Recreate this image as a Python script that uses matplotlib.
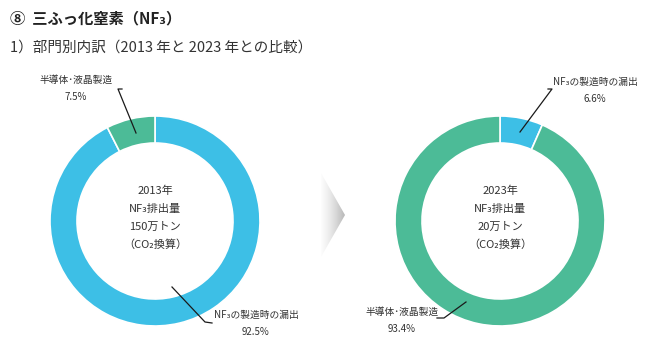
import matplotlib
matplotlib.use("Agg")
import matplotlib.pyplot as plt
import numpy as np
from matplotlib.patches import Polygon

plt.rcParams['font.family'] = ['Noto Sans CJK JP', 'DejaVu Sans']

# data
sectors = ["NF₃の製造時の漏出", "半導体･液晶製造"]
share_2013 = [92.5, 7.5]
share_2023 = [6.6, 93.4]
colors = ["#3dbfe6", "#4cbb97"]
years = ["2013年", "2023年"]
totals = ["150万トン", "20万トン"]

H = 350
TXT = "#333333"

fig = plt.figure(figsize=(6.5, 3.5), dpi=100)
ax = fig.add_axes([0, 0, 1, 1])

def py(y):
    # pixel row -> data y
    return H - y

def donut(cx, cy, vals, year, total):
    ax.pie(vals, colors=colors, startangle=90, counterclock=False,
           radius=105, center=(cx, py(cy)),
           wedgeprops=dict(width=27, edgecolor="white", linewidth=1.2))
    lines = [year, "NF₃排出量", total, "（CO₂換算）"]
    for i, s in enumerate(lines):
        ax.text(cx, py(cy - 30 + i * 18), s, ha="center", va="center",
                fontsize=8, color=TXT)

def label(x, y, name, val, pts):
    ax.text(x, py(y), name, ha="center", va="center", fontsize=7, color=TXT)
    ax.text(x, py(y + 17), f"{val}%", ha="center", va="center", fontsize=7, color=TXT)
    xs = [p[0] for p in pts]
    ys = [py(p[1]) for p in pts]
    ax.plot(xs, ys, color="#1a1a1a", lw=0.9)

donut(155, 221, share_2013, years[0], totals[0])
donut(500, 221, share_2023, years[1], totals[1])

label(76, 80, sectors[1], share_2013[1], [(122, 89), (118, 89), (136, 133)])
label(256, 315, sectors[0], share_2013[0], [(212, 323), (205, 322), (172, 287)])
label(595, 82, sectors[0], share_2023[0], [(548, 89), (552, 89), (520, 132)])
label(402, 312, sectors[1], share_2023[1], [(437, 318), (444, 318), (466, 302)])

# chevron between the two donuts
tri = Polygon([(321, py(173)), (345, py(215)), (321, py(257))], closed=True,
              facecolor="none", edgecolor="none")
ax.add_patch(tri)
grad = np.linspace(0, 1, 100).reshape(1, -1)
im = ax.imshow(grad, cmap="Greys", vmin=-0.05, vmax=2.6, aspect="auto",
               extent=(321, 345, py(257), py(173)), zorder=1)
im.set_clip_path(tri)

ax.text(10, py(18), "⑧  三ふっ化窒素（NF₃）", ha="left", va="center",
        fontsize=11, fontweight="bold", color="#222222")
ax.text(10, py(48), "1）部門別内訳（2013 年と 2023 年との比較）", ha="left", va="center",
        fontsize=10.5, color=TXT)

ax.set_xlim(0, 650)
ax.set_ylim(0, H)
ax.set_aspect("equal")
ax.axis("off")

fig.savefig("out.png", dpi=100)
